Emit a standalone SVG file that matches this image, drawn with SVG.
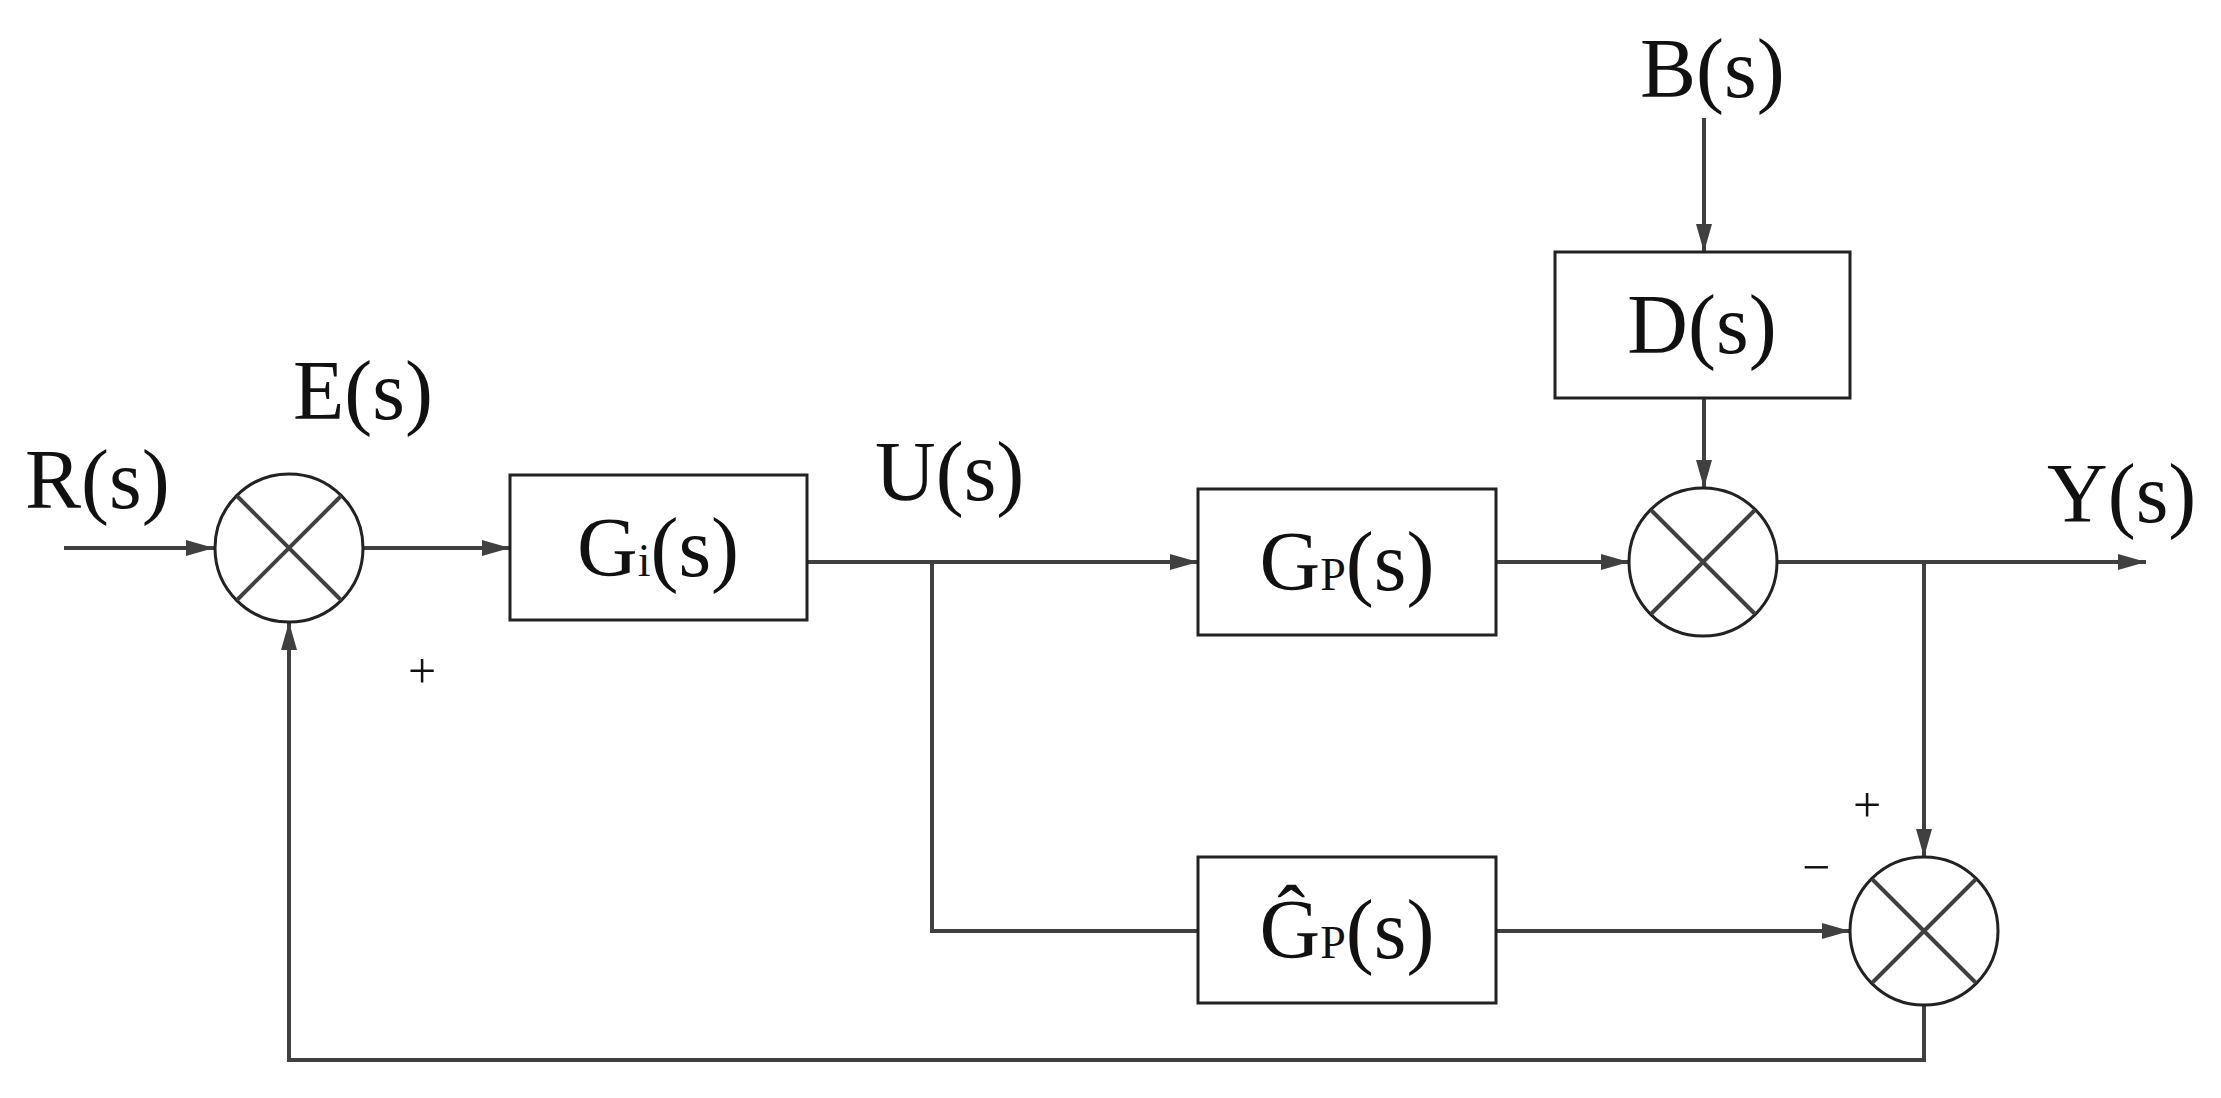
<svg xmlns="http://www.w3.org/2000/svg" width="2221" height="1098" viewBox="0 0 2221 1098">
<style>
.l{stroke:#404040;stroke-width:4;fill:none}
.b{stroke:#222;stroke-width:3;fill:#fff}
.t{font-family:"Liberation Serif",serif;font-size:84px;fill:#111}
.s{font-size:46px}
</style>
<defs><marker id="a" markerWidth="30" markerHeight="20" refX="28" refY="10" orient="auto" markerUnits="userSpaceOnUse"><path d="M0,2 L28,10 L0,18 Z" fill="#404040"/></marker></defs>
<rect width="2221" height="1098" fill="#fff"/>
<g id="connectors">
<line class="l" x1="64" y1="548" x2="214" y2="548" marker-end="url(#a)"/>
<line class="l" x1="363" y1="548" x2="510" y2="548" marker-end="url(#a)"/>
<line class="l" x1="807" y1="562" x2="1198" y2="562" marker-end="url(#a)"/>
<polyline class="l" points="932,562 932,931 1198,931"/>
<line class="l" x1="1496" y1="562" x2="1629" y2="562" marker-end="url(#a)"/>
<line class="l" x1="1704" y1="118" x2="1704" y2="252" marker-end="url(#a)"/>
<line class="l" x1="1704" y1="398" x2="1704" y2="488" marker-end="url(#a)"/>
<line class="l" x1="1777" y1="562" x2="2146" y2="562" marker-end="url(#a)"/>
<line class="l" x1="1924" y1="562" x2="1924" y2="857" marker-end="url(#a)"/>
<line class="l" x1="1496" y1="931" x2="1850" y2="931" marker-end="url(#a)"/>
<polyline class="l" points="1924,1005 1924,1060 289,1060 289,622" marker-end="url(#a)"/>
</g>
<g id="sum1"><circle class="b" cx="289" cy="548" r="74"/><path class="l" d="M237,496 L341,600 M341,496 L237,600" stroke="#222"/></g>
<g id="sum2"><circle class="b" cx="1703" cy="562" r="74"/><path class="l" d="M1651,510 L1755,614 M1755,510 L1651,614"/></g>
<g id="sum3"><circle class="b" cx="1924" cy="931" r="74"/><path class="l" d="M1872,879 L1976,983 M1976,879 L1872,983"/></g>
<g id="Gi"><rect class="b" x="510" y="475" width="297" height="145"/><text class="t" x="658" y="576" text-anchor="middle">G<tspan class="s">i</tspan>(s)</text></g>
<g id="Gp"><rect class="b" x="1198" y="489" width="298" height="146"/><text class="t" x="1347" y="590" text-anchor="middle">G<tspan class="s">P</tspan>(s)</text></g>
<g id="D"><rect class="b" x="1555" y="252" width="295" height="146"/><text class="t" x="1702" y="353" text-anchor="middle">D(s)</text></g>
<g id="Gphat"><rect class="b" x="1198" y="857" width="298" height="146"/><text class="t" x="1347" y="958" text-anchor="middle">Ĝ<tspan class="s">P</tspan>(s)</text></g>
<g id="labels">
<text class="t" x="25" y="508">R(s)</text>
<text class="t" x="293" y="419">E(s)</text>
<text class="t" x="875" y="500">U(s)</text>
<text class="t" x="1640" y="97">B(s)</text>
<text class="t" x="2047" y="522">Y(s)</text>
<text class="t" x="422" y="688" text-anchor="middle" style="font-size:50px">+</text>
<text class="t" x="1867" y="822" text-anchor="middle" style="font-size:50px">+</text>
<text class="t" x="1816" y="884" text-anchor="middle" style="font-size:50px">−</text>
</g>
</svg>
